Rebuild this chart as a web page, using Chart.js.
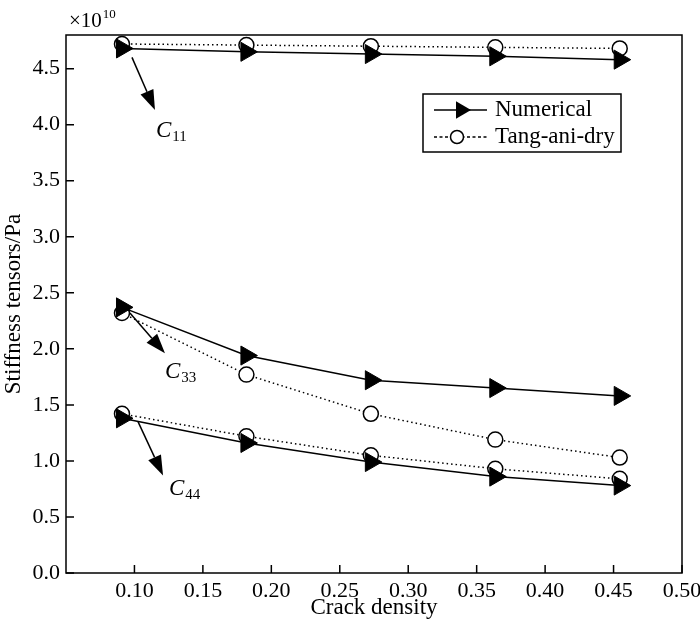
<!DOCTYPE html>
<html>
<head>
<meta charset="utf-8">
<script src="https://cdn.jsdelivr.net/npm/chart.js@4.4.1/dist/chart.umd.min.js"></script>
<style>
  html, body { margin: 0; padding: 0; background: #fff; }
  #wrap { width: 700px; height: 623px; }
</style>
</head>
<body>
<div id="wrap"><canvas id="graf"></canvas></div>
<script>
const crackDensity = [0.0909, 0.1818, 0.2727, 0.3636, 0.4545];

const numericalC11 = [4.68, 4.65, 4.63, 4.61, 4.58];
const numericalC33 = [2.37, 1.94, 1.72, 1.65, 1.58];
const numericalC44 = [1.38, 1.16, 0.99, 0.86, 0.78];

const tangC11 = [4.72, 4.71, 4.70, 4.69, 4.68];
const tangC33 = [2.32, 1.77, 1.42, 1.19, 1.03];
const tangC44 = [1.42, 1.22, 1.05, 0.93, 0.84];

const xTicks = [0.10, 0.15, 0.20, 0.25, 0.30, 0.35, 0.40, 0.45, 0.50];
const yTicks = [0.0, 0.5, 1.0, 1.5, 2.0, 2.5, 3.0, 3.5, 4.0, 4.5];

const legendLabels = ['Numerical', 'Tang-ani-dry'];

// arrows + labels, given in data units
const notes = [
    { from: [0.0982, 4.60], to: [0.1150, 4.13], label: [0.1157, 3.89], sub: '11' },
    { from: [0.0967, 2.32], to: [0.1223, 1.96], label: [0.1223, 1.74], sub: '33' },
    { from: [0.1026, 1.35], to: [0.1209, 0.87], label: [0.1252, 0.70], sub: '44' },
];

const serif = '"Liberation Serif", "DejaVu Serif", serif';
const d = document;

function pts(arr) {
    return crackDensity.map((x, i) => ({ x: x, y: arr[i] }));
}

function numerical(arr) {
    return {
        label: legendLabels[0],
        data: pts(arr),
        borderColor: '#000',
        backgroundColor: '#000',
        borderWidth: 1.5,
        pointStyle: 'triangle',
        rotation: 90,
        pointRadius: 11,
        pointBorderWidth: 1,
        clip: false,
    };
}

function tang(arr) {
    return {
        label: legendLabels[1],
        data: pts(arr),
        borderColor: '#000',
        backgroundColor: '#fff',
        borderWidth: 1.5,
        borderDash: [1.5, 3],
        pointStyle: 'circle',
        pointRadius: 7.5,
        pointBorderWidth: 1.5,
        clip: false,
    };
}

function arrow(ctx, x1, y1, x2, y2) {
    const ang = Math.atan2(y2 - y1, x2 - x1);
    const len = 20, half = 7;
    const bx = x2 - Math.cos(ang) * len, by = y2 - Math.sin(ang) * len;
    ctx.beginPath();
    ctx.moveTo(x1, y1);
    ctx.lineTo(bx, by);
    ctx.stroke();
    ctx.beginPath();
    ctx.moveTo(x2, y2);
    ctx.lineTo(bx - Math.sin(ang) * half, by + Math.cos(ang) * half);
    ctx.lineTo(bx + Math.sin(ang) * half, by - Math.cos(ang) * half);
    ctx.closePath();
    ctx.fill();
}

const extras = {
    id: 'extras',
    afterDraw(chart) {
        const ctx = chart.ctx;
        const a = chart.chartArea;
        const xs = chart.scales.x, ys = chart.scales.y;
        ctx.save();
        ctx.strokeStyle = '#000';
        ctx.fillStyle = '#000';
        ctx.lineWidth = 1.5;
        ctx.setLineDash([]);

        // frame
        ctx.strokeRect(a.left, a.top, a.right - a.left, a.bottom - a.top);

        // inward ticks
        ctx.beginPath();
        xTicks.forEach(v => {
            const px = xs.getPixelForValue(v);
            ctx.moveTo(px, a.bottom);
            ctx.lineTo(px, a.bottom - 8);
        });
        yTicks.forEach(v => {
            const py = ys.getPixelForValue(v);
            ctx.moveTo(a.left, py);
            ctx.lineTo(a.left + 8, py);
        });
        ctx.stroke();

        // x10^10
        ctx.textBaseline = 'alphabetic';
        ctx.textAlign = 'left';
        ctx.font = '21px ' + serif;
        ctx.fillText('\u00d710', a.left + 3, a.top - 8);
        const w = ctx.measureText('\u00d710').width;
        ctx.font = '13px ' + serif;
        ctx.fillText('10', a.left + 3 + w + 1, a.top - 17);

        // arrows and C labels
        notes.forEach(n => {
            arrow(ctx,
                xs.getPixelForValue(n.from[0]), ys.getPixelForValue(n.from[1]),
                xs.getPixelForValue(n.to[0]), ys.getPixelForValue(n.to[1]));
            const lx = xs.getPixelForValue(n.label[0]);
            const ly = ys.getPixelForValue(n.label[1]);
            ctx.font = 'italic 23px ' + serif;
            ctx.fillText('C', lx, ly);
            const cw = ctx.measureText('C').width;
            ctx.font = '15px ' + serif;
            ctx.fillText(n.sub, lx + cw + 1, ly + 4);
        });

        // legend
        const bx = a.right - 259, by = a.top + 59, bw = 198, bh = 58;
        ctx.fillStyle = '#fff';
        ctx.fillRect(bx, by, bw, bh);
        ctx.fillStyle = '#000';
        ctx.strokeRect(bx, by, bw, bh);
        const r1 = by + 16, r2 = by + 43;
        ctx.beginPath();
        ctx.moveTo(bx + 11, r1);
        ctx.lineTo(bx + 64, r1);
        ctx.stroke();
        // triangle pointing right
        const tx = bx + 38, tr = 10;
        ctx.beginPath();
        ctx.moveTo(tx + tr, r1);
        ctx.lineTo(tx - tr / 2, r1 - tr * 0.866);
        ctx.lineTo(tx - tr / 2, r1 + tr * 0.866);
        ctx.closePath();
        ctx.fill();

        ctx.setLineDash([3, 2.5]);
        ctx.beginPath();
        ctx.moveTo(bx + 11, r2);
        ctx.lineTo(bx + 64, r2);
        ctx.stroke();
        ctx.setLineDash([]);
        ctx.beginPath();
        ctx.arc(bx + 34, r2, 6.5, 0, Math.PI * 2);
        ctx.fillStyle = '#fff';
        ctx.fill();
        ctx.stroke();
        ctx.fillStyle = '#000';

        ctx.font = '23px ' + serif;
        ctx.textBaseline = 'middle';
        ctx.fillText(legendLabels[0], bx + 72, r1);
        ctx.fillText(legendLabels[1], bx + 72, r2);
        ctx.restore();
    }
};

const $ctx = d.getElementById('graf');

const chart = new Chart($ctx, {
    type: 'line',
    data: {
        datasets: [
            numerical(numericalC11),
            numerical(numericalC33),
            numerical(numericalC44),
            tang(tangC11),
            tang(tangC33),
            tang(tangC44),
        ]
    },
    options: {
        responsive: true,
        maintainAspectRatio: false,
        animation: false,
        devicePixelRatio: 1,
        layout: { padding: { left: 0, right: 18, top: 35, bottom: 0 } },
        plugins: {
            legend: { display: false },
            tooltip: { enabled: false },
        },
        scales: {
            x: {
                type: 'linear',
                min: 0.05,
                max: 0.5,
                afterBuildTicks: s => { s.ticks = xTicks.map(v => ({ value: v })); },
                afterFit: s => { s.height = 50; s.paddingLeft = 0; s.paddingRight = 0; },
                grid: { display: false, drawTicks: false },
                border: { display: false },
                ticks: {
                    padding: 5,
                    color: '#000',
                    font: { family: serif, size: 22 },
                    callback: v => v.toFixed(2),
                },
                title: {
                    display: true,
                    text: 'Crack density',
                    color: '#000',
                    font: { family: serif, size: 23 },
                    padding: { top: 0, bottom: 1 },
                },
            },
            y: {
                min: 0,
                max: 4.8,
                afterBuildTicks: s => { s.ticks = yTicks.map(v => ({ value: v })); },
                afterFit: s => { s.width = 66; },
                grid: { display: false, drawTicks: false },
                border: { display: false },
                ticks: {
                    padding: 6,
                    color: '#000',
                    font: { family: serif, size: 22 },
                    callback: v => v.toFixed(1),
                },
                title: {
                    display: true,
                    text: 'Stiffness tensors/Pa',
                    color: '#000',
                    font: { family: serif, size: 23 },
                    padding: { top: 0, bottom: 0 },
                },
            },
        },
    },
    plugins: [extras],
});
</script>
</body>
</html>
